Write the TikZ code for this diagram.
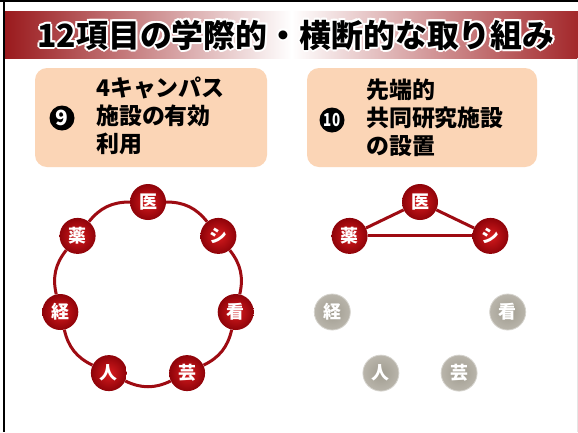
\documentclass[tikz,border=0pt]{standalone}
\usepackage{fontspec}
\newfontfamily\jp{Noto Sans CJK JP}
\definecolor{peach}{HTML}{FBD5B6}
\definecolor{hdrL}{HTML}{9A1A1D}
\definecolor{hdrR}{HTML}{A3282B}
\definecolor{linkred}{HTML}{9E0B12}
\definecolor{redin}{HTML}{D81B1E}
\definecolor{redout}{HTML}{8E0309}
\definecolor{grayin}{HTML}{A09C90}
\definecolor{grayout}{HTML}{B9B5AB}
\begin{document}
\begin{tikzpicture}[x=1bp,y=-1bp,
  titletext/.style={font=\jp\bfseries\fontsize{32}{32}\selectfont, inner sep=0pt},
  infobox/.style={fill=peach, rounded corners=12bp},
  boxtext/.style={font=\jp\bfseries\fontsize{23}{28}\selectfont, align=left, inner sep=0pt},
  numdot/.style={circle, fill=black, minimum size=25bp, inner sep=0pt, text=white, font=\jp\bfseries\fontsize{21}{21}\selectfont},
  ballbase/.style={circle, minimum size=36bp, inner sep=0pt, text=white, font=\jp\bfseries\fontsize{18}{18}\selectfont},
  redball/.style={ballbase, shading=radial, inner color=redin, outer color=redout},
  grayball/.style={ballbase, shading=radial, inner color=grayin, outer color=grayout, draw=grayout!60, line width=0.8bp},
  link/.style={draw=linkred, line width=3bp}
]
\useasboundingbox (0,0) rectangle (578,432);
\fill[white] (0,0) rectangle (578,432);
% header
\shade[left color=hdrL, right color=hdrR, middle color=white] (5,11) rectangle (578,58);
\foreach \a in {0,45,...,315}
  \path (296,35) ++(\a:2) node[titletext, text=white] {12項目の学際的・横断的な取り組み};
\node[titletext] (title) at (296,35) {12項目の学際的・横断的な取り組み};
% frame
\draw[line width=2bp] (0,1) -- (578,1);
\draw[line width=2bp] (4,0) -- (4,432);
\draw[gray!20, line width=0.7bp] (577.5,58) -- (577.5,432);
% boxes
\fill[infobox] (35,68) rectangle (267,167);
\fill[infobox] (307,68) rectangle (537,167);
\node[numdot] (n9) at (62,118) {9};
\node[boxtext, anchor=west] (t9) at (96,116) {4キャンパス\\施設の有効\\利用};
\node[numdot, font=\jp\bfseries\fontsize{18}{18}\selectfont] (n10) at (332,120) {\scalebox{0.75}[1]{10}};
\node[boxtext, anchor=west] (t10) at (366,118) {先端的\\共同研究施設\\の設置};
% left ring
\node[redball] (a1) at (148,202) {医};
\node[redball] (a2) at (218.4,235.9) {シ};
\node[redball] (a3) at (235.7,312.0) {看};
\node[redball] (a4) at (187.1,373.1) {芸};
\node[redball] (a5) at (108.9,373.1) {人};
\node[redball] (a6) at (60.3,312.0) {経};
\node[redball] (a7) at (77.6,235.9) {薬};
\draw[link] (a1) to[bend left=25.7] (a2);
\draw[link] (a2) to[bend left=25.7] (a3);
\draw[link] (a3) to[bend left=25.7] (a4);
\draw[link] (a4) to[bend left=25.7] (a5);
\draw[link] (a5) to[bend left=25.7] (a6);
\draw[link] (a6) to[bend left=25.7] (a7);
\draw[link] (a7) to[bend left=25.7] (a1);
% right triangle
\node[redball] (b1) at (420,202) {医};
\node[redball] (b2) at (490.4,235.9) {シ};
\node[grayball] (b3) at (507.7,312.0) {看};
\node[grayball] (b4) at (459.1,373.1) {芸};
\node[grayball] (b5) at (380.9,373.1) {人};
\node[grayball] (b6) at (332.3,312.0) {経};
\node[redball] (b7) at (349.6,235.9) {薬};
\draw[link] (b1) -- (b2);
\draw[link] (b1) -- (b7);
\draw[link] (b7) -- (b2);
\end{tikzpicture}
\end{document}
